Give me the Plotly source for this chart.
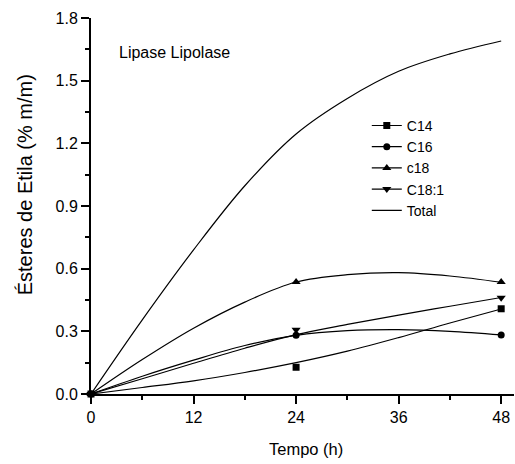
import plotly.graph_objects as go

# Fitted curves
curve_x = [0, 6, 12, 18, 24, 30, 36, 42, 48]
total_fit = [0, 0.355, 0.69, 0.997, 1.245, 1.415, 1.545, 1.628, 1.69]
c14_fit = [0, 0.031, 0.063, 0.103, 0.15, 0.205, 0.27, 0.34, 0.407]
c16_fit = [0, 0.085, 0.162, 0.232, 0.281, 0.303, 0.308, 0.300, 0.283]
c18_fit = [0, 0.165, 0.315, 0.44, 0.536, 0.571, 0.581, 0.565, 0.535]
c181_fit = [0, 0.073, 0.147, 0.219, 0.284, 0.333, 0.378, 0.42, 0.462]

# Measured points
marker_x = [0, 24, 48]
c14_pts = [0, 0.128, 0.408]
c16_pts = [0, 0.281, 0.283]
c18_pts = [0, 0.536, 0.536]
c181_pts = [0, 0.308, 0.461]

x_ticks = [0, 12, 24, 36, 48]
y_ticks = [0.0, 0.3, 0.6, 0.9, 1.2, 1.5, 1.8]
y_tick_text = ["0.0", "0.3", "0.6", "0.9", "1.2", "1.5", "1.8"]

FONT = "Liberation Sans, Arial, sans-serif"
BLACK = "#000000"

series = [
    ("C14", c14_fit, c14_pts, "square", 7),
    ("C16", c16_fit, c16_pts, "circle", 7),
    ("c18", c18_fit, c18_pts, "triangle-up", 8),
    ("C18:1", c181_fit, c181_pts, "triangle-down", 8),
]

fig = go.Figure()
for name, fit, pts, sym, sz in series:
    fig.add_trace(go.Scatter(x=curve_x, y=fit, mode="lines", line=dict(color=BLACK, width=1.2, shape="spline"),
                             showlegend=False, cliponaxis=False, hoverinfo="skip"))
    fig.add_trace(go.Scatter(x=marker_x, y=pts, mode="markers", marker=dict(symbol=sym, size=sz, color=BLACK),
                             showlegend=False, cliponaxis=False))
    fig.add_trace(go.Scatter(x=[None], y=[None], mode="lines+markers", name=name,
                             line=dict(color=BLACK, width=1.2), marker=dict(symbol=sym, size=sz, color=BLACK)))

fig.add_trace(go.Scatter(x=curve_x, y=total_fit, mode="lines", name="Total",
                         line=dict(color=BLACK, width=1.2, shape="spline"), cliponaxis=False))

fig.update_layout(
    width=515, height=464,
    margin=dict(l=91, r=1, t=18, b=69.5),
    paper_bgcolor="white", plot_bgcolor="white",
    font=dict(family=FONT, size=16, color=BLACK),
    showlegend=True,
    legend=dict(x=0.652, y=(394.5 - 110) / 376.5, xref="paper", yref="paper", xanchor="left", yanchor="top",
                font=dict(size=14, family=FONT, color=BLACK), bgcolor="rgba(0,0,0,0)",
                tracegroupgap=0, itemwidth=30),
    xaxis=dict(range=[0, 49.5], tickmode="array", tickvals=x_ticks, ticks="outside", ticklen=8, tickwidth=1.5,
               tickcolor=BLACK, showline=True, linecolor=BLACK, linewidth=2, showgrid=False, zeroline=False,
               tickfont=dict(size=16, family=FONT, color=BLACK),
               minor=dict(dtick=6, ticks="outside", ticklen=4, tickwidth=1.5, tickcolor=BLACK, showgrid=False)),
    yaxis=dict(range=[0, 1.8], tickmode="array", tickvals=y_ticks, ticktext=y_tick_text, ticks="outside",
               ticklen=8, tickwidth=1.5, tickcolor=BLACK, showline=True, linecolor=BLACK, linewidth=2,
               showgrid=False, zeroline=False, tickfont=dict(size=16, family=FONT, color=BLACK),
               minor=dict(dtick=0.15, ticks="outside", ticklen=4, tickwidth=1.5, tickcolor=BLACK, showgrid=False)),
    annotations=[
        dict(text="Lipase Lipolase", xref="paper", yref="paper", x=0.0615, y=(394.5 - 53) / 376.5,
             xanchor="left", yanchor="middle", showarrow=False, font=dict(size=16, family=FONT, color=BLACK)),
        dict(text="Tempo (h)", xref="paper", yref="paper", x=(305.5 - 91) / 423, y=(394.5 - 450) / 376.5,
             xanchor="center", yanchor="middle", showarrow=False, font=dict(size=16.5, family=FONT, color=BLACK)),
        dict(text="Ésteres de Etila (% m/m)", xref="paper", yref="paper", x=(25 - 91) / 423,
             y=(394.5 - 185.5) / 376.5, xanchor="center", yanchor="middle", textangle=-90, showarrow=False,
             font=dict(size=20, family=FONT, color=BLACK)),
    ],
)

fig.write_html("out.html")
